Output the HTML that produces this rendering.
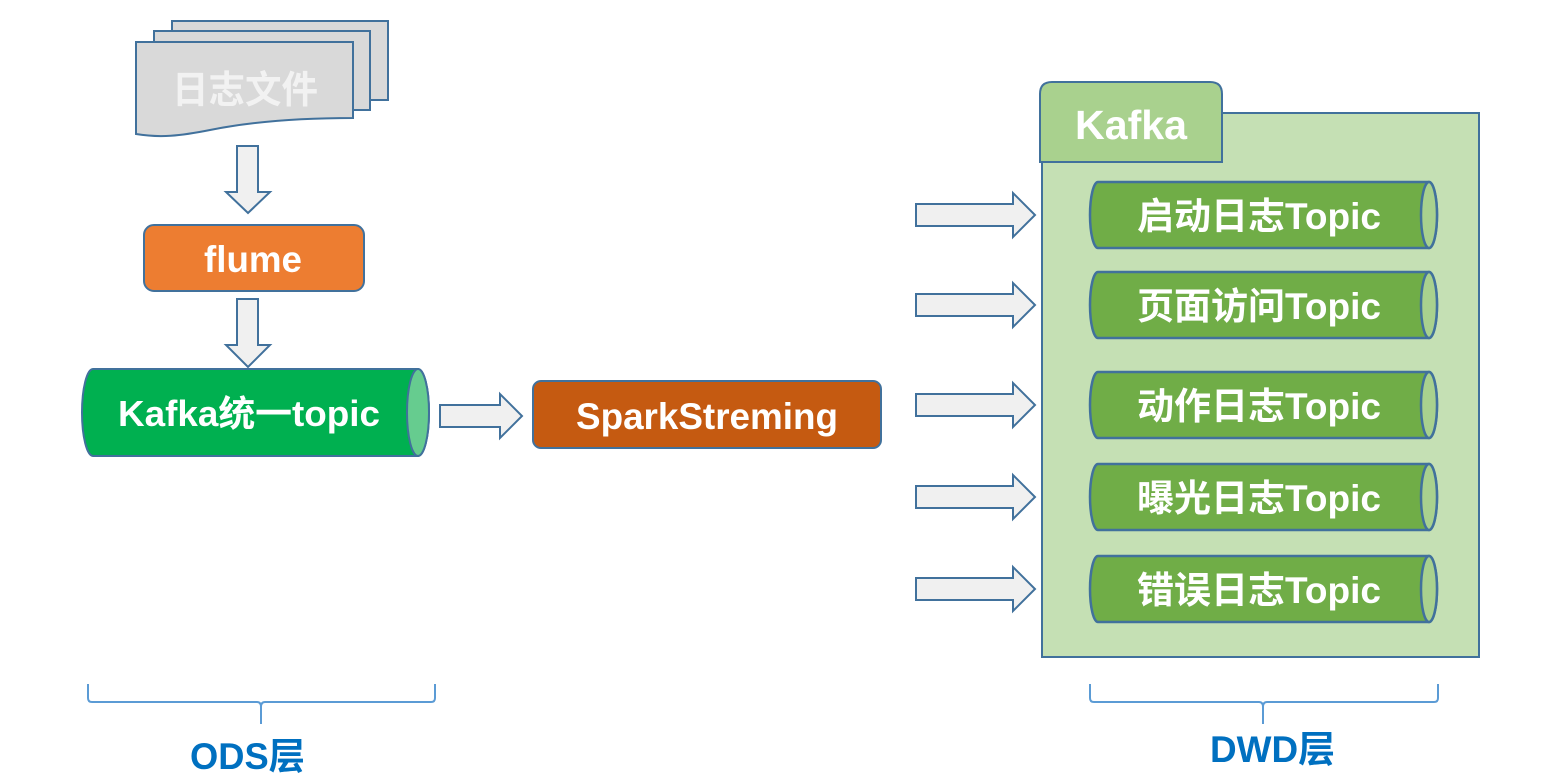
<!DOCTYPE html>
<html><head><meta charset="utf-8"><style>
html,body{margin:0;padding:0;background:#fff;}
svg{display:block;}
text{font-family:"Liberation Sans","Noto Sans CJK SC",sans-serif;font-weight:bold;}
</style></head><body>
<svg width="1546" height="776" viewBox="0 0 1546 776" xmlns="http://www.w3.org/2000/svg">
<defs>
<path id="ra" d="M0,-11 H97 V-22 L119,0 L97,22 V11 H0 Z"/>
</defs>
<g stroke="#41719C" stroke-width="2">
<rect x="172" y="21" width="216" height="79" fill="#D9D9D9"/>
<rect x="154" y="31" width="216" height="79" fill="#D9D9D9"/>
<path d="M136,42 H353 V118 C300,118 250,122 210,130 C180,136 160,138 136,134 Z" fill="#D9D9D9"/>
<path d="M237,146 H258 V192 H270 L248,213 L226,192 H237 Z" fill="#F0F0F0"/>
<path d="M237,299 H258 V345 H270 L248,367 L226,345 H237 Z" fill="#F0F0F0"/>
<rect x="144" y="225" width="220" height="66" rx="10" fill="#ED7D31"/>
<path d="M93,369 H418 A11,43.5 0 0 1 418,456 H93 A11,43.5 0 0 1 93,369 Z" fill="#00B050"/>
<ellipse cx="418" cy="412.5" rx="11" ry="43.5" fill="#66CC8F"/>
<path d="M440,405 H500 V394 L522,416 L500,438 V427 H440 Z" fill="#F0F0F0"/>
<rect x="533" y="381" width="348" height="67" rx="8" fill="#C55A11"/>
<rect x="1042" y="113" width="437" height="544" fill="#C5E0B4"/>
<path d="M1040,162 V94 Q1040,82 1052,82 H1210 Q1222,82 1222,94 V162 Z" fill="#A9D18E"/>
<use href="#ra" x="916" y="215" fill="#F0F0F0"/>
<use href="#ra" x="916" y="305" fill="#F0F0F0"/>
<use href="#ra" x="916" y="405" fill="#F0F0F0"/>
<use href="#ra" x="916" y="497" fill="#F0F0F0"/>
<use href="#ra" x="916" y="589" fill="#F0F0F0"/>
</g>
<g stroke="#41719C" stroke-width="2.5">
<path d="M1098,182 H1429 A8,33 0 0 1 1429,248 H1098 A8,33 0 0 1 1098,182 Z" fill="#70AD47"/>
<ellipse cx="1429" cy="215" rx="8" ry="33" fill="#A9D18E"/>
<path d="M1098,272 H1429 A8,33 0 0 1 1429,338 H1098 A8,33 0 0 1 1098,272 Z" fill="#70AD47"/>
<ellipse cx="1429" cy="305" rx="8" ry="33" fill="#A9D18E"/>
<path d="M1098,372 H1429 A8,33 0 0 1 1429,438 H1098 A8,33 0 0 1 1098,372 Z" fill="#70AD47"/>
<ellipse cx="1429" cy="405" rx="8" ry="33" fill="#A9D18E"/>
<path d="M1098,464 H1429 A8,33 0 0 1 1429,530 H1098 A8,33 0 0 1 1098,464 Z" fill="#70AD47"/>
<ellipse cx="1429" cy="497" rx="8" ry="33" fill="#A9D18E"/>
<path d="M1098,556 H1429 A8,33 0 0 1 1429,622 H1098 A8,33 0 0 1 1098,556 Z" fill="#70AD47"/>
<ellipse cx="1429" cy="589" rx="8" ry="33" fill="#A9D18E"/>
</g>
<g fill="none" stroke="#5B9BD5" stroke-width="2">
<path d="M88,684 V698 Q88,702 92,702 H257 Q261,702 261,707 V724 M261,707 Q261,702 265,702 H431 Q435,702 435,698 V684"/>
<path d="M1090,684 V698 Q1090,702 1094,702 H1259 Q1263,702 1263,707 V724 M1263,707 Q1263,702 1267,702 H1434 Q1438,702 1438,698 V684"/>
</g>
<g fill="#fff" lengthAdjust="spacingAndGlyphs">
<text x="172" y="103" font-size="38" fill="#F2F2F2" textLength="146" lengthAdjust="spacingAndGlyphs">日志文件</text>
<text x="204" y="272" font-size="37" textLength="98" lengthAdjust="spacingAndGlyphs">flume</text>
<text x="118" y="426" font-size="36" textLength="262" lengthAdjust="spacingAndGlyphs">Kafka统一topic</text>
<text x="576" y="429" font-size="37" textLength="262" lengthAdjust="spacingAndGlyphs">SparkStreming</text>
<text x="1075" y="139" font-size="41" textLength="112" lengthAdjust="spacingAndGlyphs">Kafka</text>
<text x="1137" y="229" font-size="37" textLength="244" lengthAdjust="spacingAndGlyphs">启动日志Topic</text>
<text x="1137" y="319" font-size="37" textLength="244" lengthAdjust="spacingAndGlyphs">页面访问Topic</text>
<text x="1137" y="419" font-size="37" textLength="244" lengthAdjust="spacingAndGlyphs">动作日志Topic</text>
<text x="1137" y="511" font-size="37" textLength="244" lengthAdjust="spacingAndGlyphs">曝光日志Topic</text>
<text x="1137" y="603" font-size="37" textLength="244" lengthAdjust="spacingAndGlyphs">错误日志Topic</text>
</g>
<g fill="#0070C0">
<text x="190" y="769" font-size="37" textLength="115" lengthAdjust="spacingAndGlyphs">ODS层</text>
<text x="1210" y="762" font-size="37" textLength="125" lengthAdjust="spacingAndGlyphs">DWD层</text>
</g>
</svg>
</body></html>
